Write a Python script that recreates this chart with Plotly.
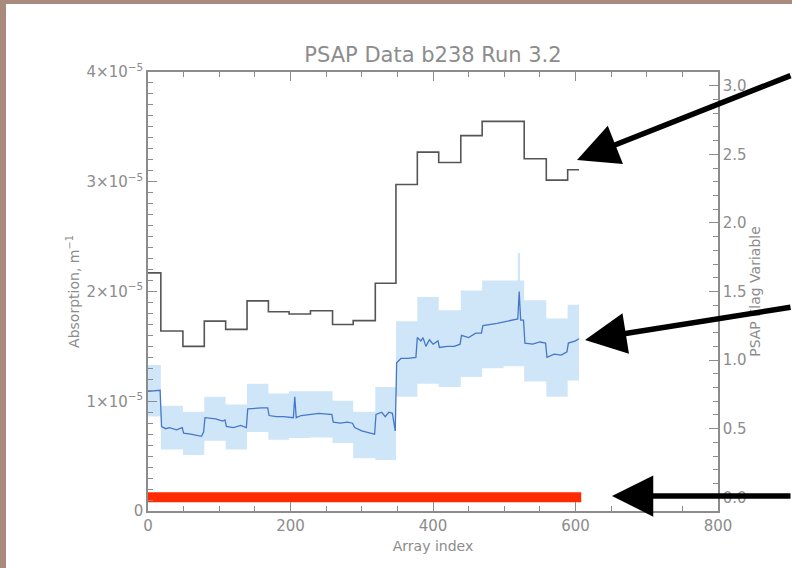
import plotly.graph_objects as go

SCALE = 1e-5

# Black step series (segment edges in array index, values in units of 1e-5)
step_edges = [0, 18, 49, 79, 109, 139, 169, 198, 228, 259, 288, 319, 348, 378, 408, 439, 469, 528, 559, 589, 605]
step_vals = [2.17, 1.64, 1.50, 1.73, 1.655, 1.915, 1.815, 1.795, 1.825, 1.70, 1.735, 2.075,
             2.975, 3.27, 3.175, 3.42, 3.55, 3.21, 3.015, 3.11]

# Uncertainty band (segment edges, upper/lower, units of 1e-5)
band_edges = [0, 18, 49, 79, 109, 139, 169, 198, 228, 259, 288, 319, 348, 378, 408, 439, 469, 499, 519, 522, 528, 559, 589, 605]
band_upper = [1.33, 0.96, 0.905, 1.04, 0.97, 1.16, 1.07, 1.09, 1.09, 1.005, 0.905, 1.13,
              1.73, 1.95, 1.83, 2.01, 2.10, 2.10, 2.35, 2.10, 1.92, 1.755, 1.88]
band_lower = [0.86, 0.56, 0.51, 0.64, 0.56, 0.72, 0.65, 0.665, 0.67, 0.62, 0.48, 0.465,
              1.04, 1.16, 1.13, 1.22, 1.30, 1.32, 1.32, 1.32, 1.18, 1.04, 1.19]

# Blue absorption series (array index, value in units of 1e-5)
blue_x = [0, 17, 19, 25, 30, 40, 48, 50, 60, 70, 75, 78, 80, 95, 105, 108, 110, 120, 130, 138,
          140, 160, 168, 170, 180, 190, 204, 206, 208, 215, 228, 240, 255, 258, 260, 270, 280, 287,
          290, 300, 312, 318, 320, 328, 333, 338, 343, 347, 349, 355, 365, 376, 378, 383, 386, 390,
          395, 400, 407, 409, 420, 430, 438, 440, 450, 460, 468, 470, 490, 510, 519, 521, 523, 527,
          529, 540, 550, 558, 560, 570, 580, 588, 590, 600, 605]
blue_y = [1.09, 1.10, 0.77, 0.75, 0.76, 0.74, 0.76, 0.71, 0.70, 0.69, 0.68, 0.72, 0.85, 0.84, 0.82,
          0.83, 0.77, 0.76, 0.78, 0.76, 0.93, 0.94, 0.94, 0.87, 0.86, 0.86, 0.85, 1.04, 0.85, 0.87,
          0.88, 0.89, 0.88, 0.88, 0.81, 0.80, 0.81, 0.80, 0.76, 0.73, 0.71, 0.70, 0.88, 0.90, 0.86,
          0.90, 0.89, 0.73, 1.35, 1.39, 1.39, 1.40, 1.58, 1.55, 1.58, 1.50, 1.56, 1.52, 1.55, 1.49,
          1.50, 1.50, 1.52, 1.60, 1.58, 1.62, 1.62, 1.69, 1.71, 1.74, 1.75, 2.00, 1.74, 1.74, 1.53,
          1.52, 1.54, 1.53, 1.40, 1.43, 1.42, 1.45, 1.53, 1.55, 1.57]

# Flag variable (right axis)
flag_x = [0, 608]
flag_y = [0.0, 0.0]

left_tickvals = [0, 1, 2, 3, 4]
left_ticktext = ["0", "1\u00d710<sup>\u22125</sup>", "2\u00d710<sup>\u22125</sup>",
                 "3\u00d710<sup>\u22125</sup>", "4\u00d710<sup>\u22125</sup>"]
right_tickvals = [0.0, 0.5, 1.0, 1.5, 2.0, 2.5, 3.0]
right_ticktext = ["0.0", "0.5", "1.0", "1.5", "2.0", "2.5", "3.0"]
x_tickvals = [0, 200, 400, 600, 800]

GRAY = "#8c8c8c"
FONT = "DejaVu Sans"

fig = go.Figure()

fig.add_trace(go.Scatter(
    x=band_edges, y=[v * SCALE for v in band_lower + band_lower[-1:]],
    mode="lines", line=dict(width=0, shape="hv", color="#cfe5f8"),
    showlegend=False, hoverinfo="skip"))
fig.add_trace(go.Scatter(
    x=band_edges, y=[v * SCALE for v in band_upper + band_upper[-1:]],
    mode="lines", line=dict(width=0, shape="hv", color="#cfe5f8"),
    fill="tonexty", fillcolor="#cfe5f8", showlegend=False, hoverinfo="skip"))
fig.add_trace(go.Scatter(
    x=blue_x, y=[v * SCALE for v in blue_y], mode="lines",
    line=dict(color="#4677c8", width=1.3), showlegend=False))
fig.add_trace(go.Scatter(
    x=step_edges, y=[v * SCALE for v in step_vals + step_vals[-1:]], mode="lines",
    line=dict(color="#555555", width=1.6, shape="hv"), showlegend=False))
fig.add_trace(go.Scatter(
    x=flag_x, y=flag_y, mode="lines", yaxis="y2",
    line=dict(color="#ff2a00", width=10), showlegend=False))

axis_common = dict(
    showgrid=False, zeroline=False, showline=True, linecolor=GRAY, linewidth=1.5,
    ticks="inside", tickcolor=GRAY, tickwidth=1.2, ticklen=9,
    tickfont=dict(family=FONT, size=15, color=GRAY),
)

fig.update_layout(
    width=792, height=568,
    margin=dict(l=148, r=74, t=72, b=57),
    paper_bgcolor="#a98a7c", plot_bgcolor="white",
    title=dict(text="PSAP Data b238 Run 3.2", x=0.5, xref="paper", y=1 - 55 / 568,
               yanchor="middle", font=dict(family=FONT, size=21, color=GRAY)),
    xaxis=dict(range=[0, 800], tickvals=x_tickvals, mirror="ticks",
               minor=dict(dtick=50, ticks="inside", ticklen=5, tickcolor=GRAY),
               title=dict(text="Array index", font=dict(family=FONT, size=14, color=GRAY), standoff=7),
               **axis_common),
    yaxis=dict(range=[0, 4 * SCALE], tickvals=[v * SCALE for v in left_tickvals], ticktext=left_ticktext,
               minor=dict(dtick=0.1 * SCALE, ticks="inside", ticklen=5, tickcolor=GRAY),
               title=dict(text="Absorption, m<sup>\u22121</sup>", font=dict(family=FONT, size=14, color=GRAY), standoff=4),
               **axis_common),
    yaxis2=dict(range=[-0.1, 3.1], overlaying="y", side="right", tickvals=right_tickvals,
                ticktext=right_ticktext,
                minor=dict(dtick=0.1, ticks="inside", ticklen=5, tickcolor=GRAY),
                title=dict(text="PSAP Flag Variable", font=dict(family=FONT, size=14, color=GRAY), standoff=2),
                **axis_common),
)

# white slide area (leaves a thin border on the left/top)
fig.add_shape(type="rect", xref="paper", yref="paper", layer="below",
              x0=(6 - 148) / 570, x1=(800 - 148) / 570,
              y0=(511 - 575) / 439, y1=(511 - 4) / 439,
              fillcolor="white", line=dict(width=0))

# black arrows
for tx, ty, ax, ay in [(577, 160, 225, -85), (585, 340, 220, -33), (612, 496, 200, 0)]:
    fig.add_annotation(x=(tx - 148) / 570, y=(511 - ty) / 439, xref="paper", yref="paper",
                       text="", showarrow=True, arrowhead=2, arrowsize=1.5, arrowwidth=5.5,
                       arrowcolor="black", ax=ax, ay=ay, standoff=0)

fig.write_html("out.html", config={"displayModeBar": False},
               post_script="document.body.style.margin='0';document.body.style.overflow='hidden';")
